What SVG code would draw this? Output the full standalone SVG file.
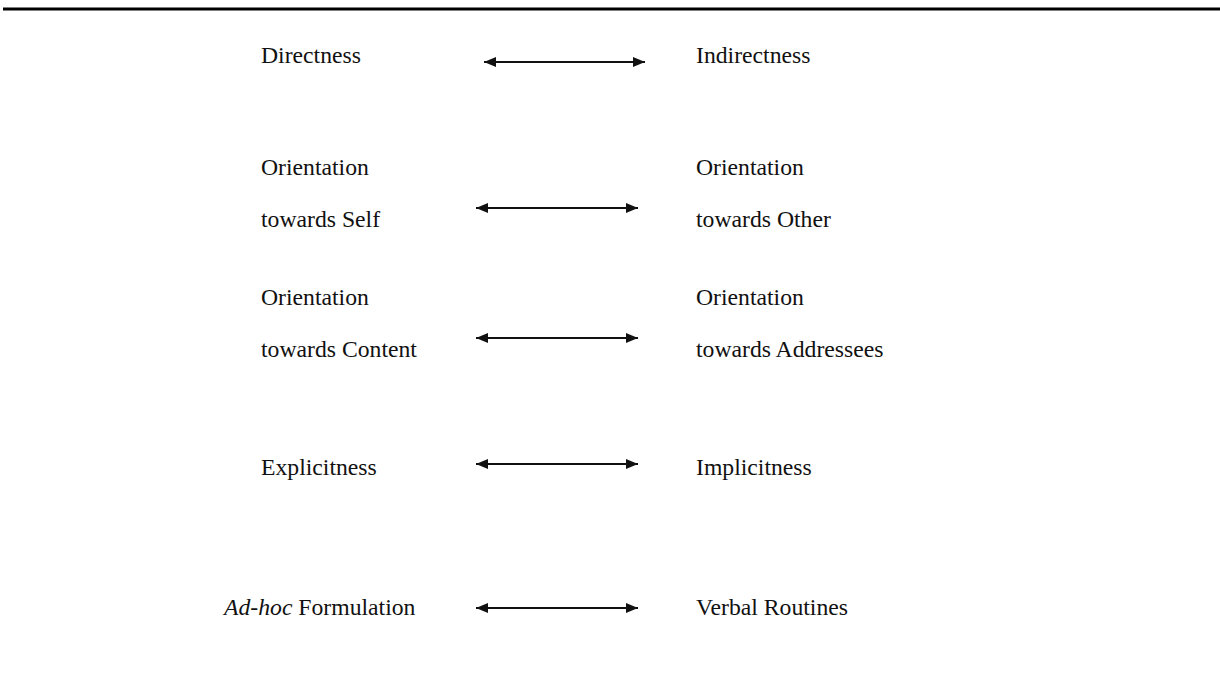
<svg xmlns="http://www.w3.org/2000/svg" width="1220" height="699" viewBox="0 0 1220 699">
<style>
text{font-family:"Liberation Serif","Times New Roman",serif;font-size:23.7px;fill:#111}
.c line{stroke:#111;stroke-width:2}
</style>
<defs>
<marker id="ah" viewBox="0 0 12 10" refX="12" refY="5" markerWidth="12" markerHeight="10" markerUnits="userSpaceOnUse" orient="auto-start-reverse">
<path d="M0,0 L12,5 L0,10 z" fill="#111"/>
</marker>
</defs>
<rect width="1220" height="699" fill="#fff"/>
<line x1="3" y1="9" x2="1220" y2="9" stroke="#000" stroke-width="3"/>
<g id="directness"><text x="261" y="63">Directness</text></g>
<g id="indirectness"><text x="696" y="63">Indirectness</text></g>
<g id="self"><text x="261" y="175">Orientation</text><text x="261" y="227">towards Self</text></g>
<g id="other"><text x="696" y="175">Orientation</text><text x="696" y="227">towards Other</text></g>
<g id="content"><text x="261" y="305">Orientation</text><text x="261" y="357">towards Content</text></g>
<g id="addressees"><text x="696" y="305">Orientation</text><text x="696" y="357">towards Addressees</text></g>
<g id="explicitness"><text x="261" y="475">Explicitness</text></g>
<g id="implicitness"><text x="696" y="475">Implicitness</text></g>
<g id="adhoc"><text x="224" y="615"><tspan font-style="italic">Ad-hoc</tspan> Formulation</text></g>
<g id="routines"><text x="696" y="615">Verbal Routines</text></g>
<g class="c" id="connectors">
<line x1="484" y1="62" x2="645" y2="62" marker-start="url(#ah)" marker-end="url(#ah)"/>
<line x1="476" y1="208" x2="638" y2="208" marker-start="url(#ah)" marker-end="url(#ah)"/>
<line x1="476" y1="338" x2="638" y2="338" marker-start="url(#ah)" marker-end="url(#ah)"/>
<line x1="476" y1="464" x2="638" y2="464" marker-start="url(#ah)" marker-end="url(#ah)"/>
<line x1="476" y1="608" x2="638" y2="608" marker-start="url(#ah)" marker-end="url(#ah)"/>
</g>
</svg>
